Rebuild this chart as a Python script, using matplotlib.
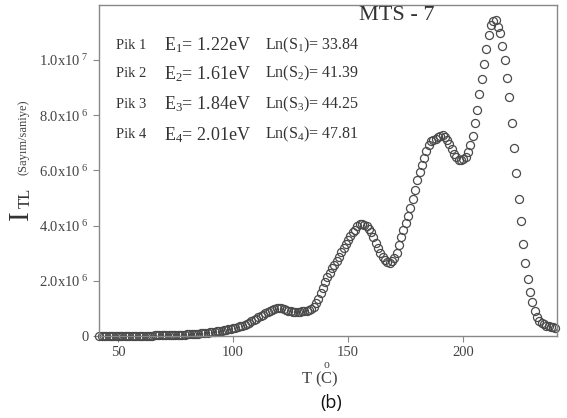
import numpy as np
import matplotlib
matplotlib.use("Agg")
import matplotlib.pyplot as plt
from matplotlib.ticker import FuncFormatter

plt.rcParams['font.family'] = ['Liberation Serif', 'DejaVu Serif']
plt.rcParams['mathtext.fontset'] = 'custom'
plt.rcParams['mathtext.rm'] = 'Liberation Serif'
plt.rcParams['mathtext.it'] = 'Liberation Serif:italic'

# temperature (C), one reading per degree
temps = np.arange(42, 241)

# TL intensity in units of 1e6 counts/s
intensity = [
    0.01, 0.01, 0.01, 0.01, 0.01, 0.01, 0.01, 0.01, 0.01, 0.01,          # 42-51
    0.01, 0.01, 0.01, 0.01, 0.015, 0.015, 0.015, 0.015, 0.02, 0.02,      # 52-61
    0.02, 0.02, 0.02, 0.02, 0.025, 0.025, 0.025, 0.03, 0.03, 0.03,       # 62-71
    0.035, 0.035, 0.04, 0.04, 0.045, 0.05, 0.05, 0.055, 0.06, 0.065,     # 72-81
    0.07, 0.075, 0.08, 0.09, 0.1, 0.105, 0.115, 0.125, 0.135, 0.145,     # 82-91
    0.155, 0.17, 0.18, 0.195, 0.21, 0.225, 0.24, 0.26, 0.28, 0.30,       # 92-101
    0.32, 0.35, 0.38, 0.41, 0.45, 0.49, 0.53, 0.58, 0.63, 0.68,          # 102-111
    0.73, 0.78, 0.83, 0.87, 0.91, 0.95, 0.98, 1.0, 1.02, 1.02,           # 112-121
    0.99, 0.95, 0.91, 0.89, 0.88, 0.87, 0.87, 0.88, 0.89, 0.9,           # 122-131
    0.92, 0.94, 0.98, 1.05, 1.18, 1.35, 1.55, 1.75, 1.95, 2.15,          # 132-141
    2.3, 2.45, 2.58, 2.72, 2.88, 3.05, 3.2, 3.35, 3.48, 3.62,            # 142-151
    3.75, 3.85, 3.97, 4.05, 4.07, 4.03, 3.97, 3.88, 3.75, 3.58,          # 152-161
    3.38, 3.18, 3.0, 2.85, 2.74, 2.67, 2.65, 2.7, 2.82, 3.0,             # 162-171
    3.3, 3.6, 3.85, 4.1, 4.35, 4.65, 4.95, 5.3, 5.65, 5.95,              # 172-181
    6.2, 6.45, 6.7, 6.9, 7.05, 7.1, 7.15, 7.2, 7.25, 7.27,               # 182-191
    7.22, 7.1, 6.95, 6.78, 6.6, 6.47, 6.38, 6.36, 6.4, 6.5,              # 192-201
    6.65, 6.9, 7.25, 7.7, 8.2, 8.75, 9.3, 9.85, 10.4, 10.9,              # 202-211
    11.25, 11.42, 11.45, 11.2, 10.98, 10.5, 10.0, 9.35, 8.65, 7.71,      # 212-221
    6.8, 5.89, 4.95, 4.15, 3.35, 2.65, 2.07, 1.6, 1.24, 0.91,            # 222-231
    0.69, 0.55, 0.47, 0.42, 0.38, 0.36, 0.34, 0.32, 0.3,                 # 232-240
]

peaks = ["Pik 1", "Pik 2", "Pik 3", "Pik 4"]
energies = ["1.22", "1.61", "1.84", "2.01"]
ln_s = ["33.84", "41.39", "44.25", "47.81"]

y_ticks = [0, 2e6, 4e6, 6e6, 8e6, 1e7]
x_ticks = [50, 100, 150, 200]


def sci_label(v, pos):
    if v == 0:
        return "0"
    exp = int(np.floor(np.log10(v)))
    mant = v / 10 ** exp
    return r"$\mathregular{%.1fx10^{\ %d}}$" % (mant, exp)


fig = plt.figure(figsize=(5.67, 4.18), dpi=100)
ax = fig.add_axes([0.1746, 0.196, 0.807, 0.793])

ax.plot(temps, np.array(intensity) * 1e6, ls="none", marker="o", ms=5.8,
        mfc="none", mec="#4a4a4a", mew=0.9, clip_on=False)

ax.set_xlim(41.8, 240.5)
ax.set_ylim(0, 1.2e7)
ax.set_xticks(x_ticks)
ax.set_yticks(y_ticks)
ax.yaxis.set_major_formatter(FuncFormatter(sci_label))

for s in ax.spines.values():
    s.set_color("#888888")
    s.set_linewidth(1.0)
ax.tick_params(direction="out", length=4, width=0.8, color="#888888",
               labelsize=10.5, labelcolor="#444444")

# peak annotation block
rows_y = [0.878, 0.791, 0.700, 0.607]
for i in range(4):
    ax.text(0.038, rows_y[i], peaks[i], transform=ax.transAxes, fontsize=10.5,
            color="#333333", va="center")
    ax.text(0.143, rows_y[i], r"E$_{%d}$= %seV" % (i + 1, energies[i]),
            transform=ax.transAxes, fontsize=13, color="#333333", va="center")
    ax.text(0.363, rows_y[i], r"Ln(S$_{%d}$)= %s" % (i + 1, ln_s[i]),
            transform=ax.transAxes, fontsize=11.5, color="#333333", va="center")

ax.text(0.65, 0.968, "MTS - 7", transform=ax.transAxes, fontsize=16,
        color="#333333", ha="center", va="center")

# axis labels
fig.text(0.037, 0.486, "I", rotation=90, fontsize=21,
         color="#333333", ha="center", va="center")
fig.text(0.045, 0.526, "TL", rotation=90, fontsize=12,
         color="#333333", ha="center", va="center")
fig.text(0.042, 0.672, "(Sayım/saniye)", rotation=90, fontsize=9,
         color="#444444", ha="center", va="center")
fig.text(0.564, 0.102, r"T ($\mathregular{\overset{o}{C}}$)", fontsize=12,
         color="#444444", ha="center", va="center")
fig.text(0.584, 0.036, "(b)", fontsize=13, family="Open Sans",
         color="#111111", ha="center", va="center")

fig.savefig("out.png", dpi=100)
